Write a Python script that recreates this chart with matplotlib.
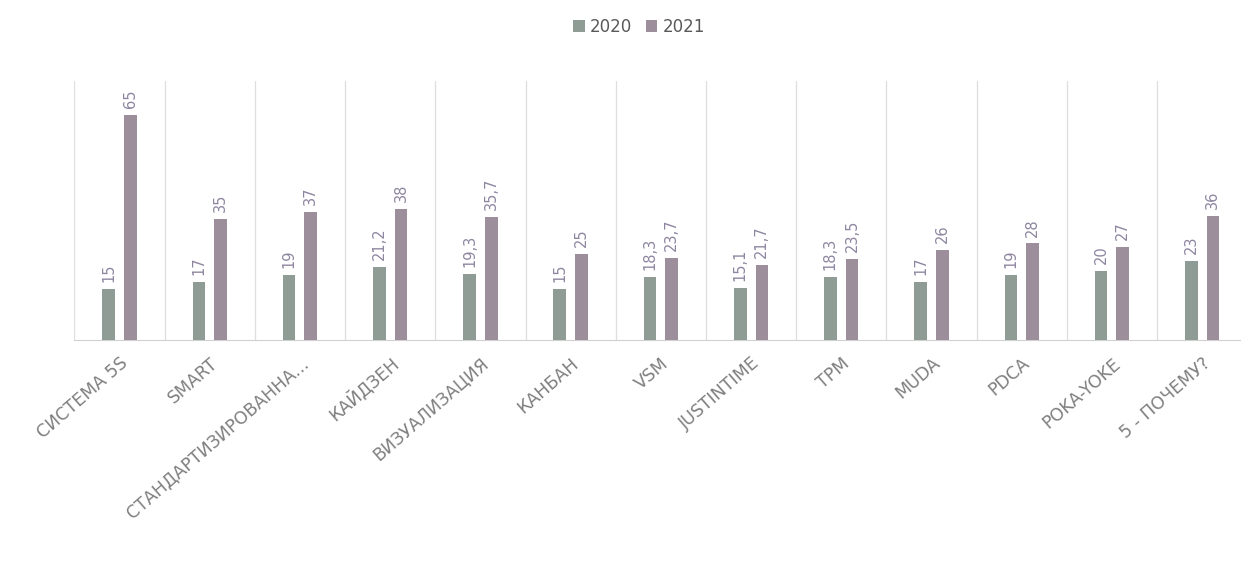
import numpy as np
import matplotlib.pyplot as plt

# survey data: lean tools, 2020 vs 2021
categories = ['СИСТЕМА 5S', 'SMART', 'СТАНДАРТИЗИРОВАННА...', 'КАЙДЗЕН',
              'ВИЗУАЛИЗАЦИЯ', 'КАНБАН', 'VSM', 'JUSTINTIME', 'TPM', 'MUDA',
              'PDCA', 'POKA-YOKE', '5 - ПОЧЕМУ?']
vals_2020 = [15, 17, 19, 21.2, 19.3, 15, 18.3, 15.1, 18.3, 17, 19, 20, 23]
vals_2021 = [65, 35, 37, 38, 35.7, 25, 23.7, 21.7, 23.5, 26, 28, 27, 36]
years = ['2020', '2021']

colors = ['#8f9c95', '#9c8e9b']
label_color = '#8e86a0'
text_color = '#7f7f7f'


def fmt(v):
    s = ('%g' % v)
    return s.replace('.', ',')


fig = plt.figure(figsize=(12.41, 5.77), dpi=100)
ax = fig.add_axes([0.06, 0.41, 0.945, 0.45])

x = np.arange(len(categories))
w = 0.14
off = 0.12

b1 = ax.bar(x - off, vals_2020, w, color=colors[0], label=years[0], zorder=3)
b2 = ax.bar(x + off, vals_2021, w, color=colors[1], label=years[1], zorder=3)

for bars, vals in ((b1, vals_2020), (b2, vals_2021)):
    for rect, v in zip(bars, vals):
        ax.text(rect.get_x() + rect.get_width() / 2, v + 2, fmt(v),
                rotation=90, ha='center', va='bottom', fontsize=10.5,
                color=label_color)

# category separators
for b in np.arange(-0.5, len(categories) + 0.5, 1):
    ax.axvline(b, color='#dedede', lw=0.9, zorder=1)

ax.set_xlim(-0.5, len(categories) - 0.5)
ax.set_ylim(0, 75)
ax.set_yticks([])
ax.set_xticks(x)
ax.set_xticklabels(categories, rotation=41, ha='right', rotation_mode='anchor',
                   fontsize=12.5, color=text_color)
ax.tick_params(axis='x', length=0, pad=10)
for s in ['top', 'right', 'left']:
    ax.spines[s].set_visible(False)
ax.spines['bottom'].set_color('#d0d0d0')

fig.legend(loc='upper center', bbox_to_anchor=(0.515, 0.995), ncol=2,
           frameon=False, fontsize=12, handlelength=0.7, handleheight=0.7,
           columnspacing=0.8, handletextpad=0.3, labelcolor='#595959')

fig.savefig('out.png', dpi=100)
